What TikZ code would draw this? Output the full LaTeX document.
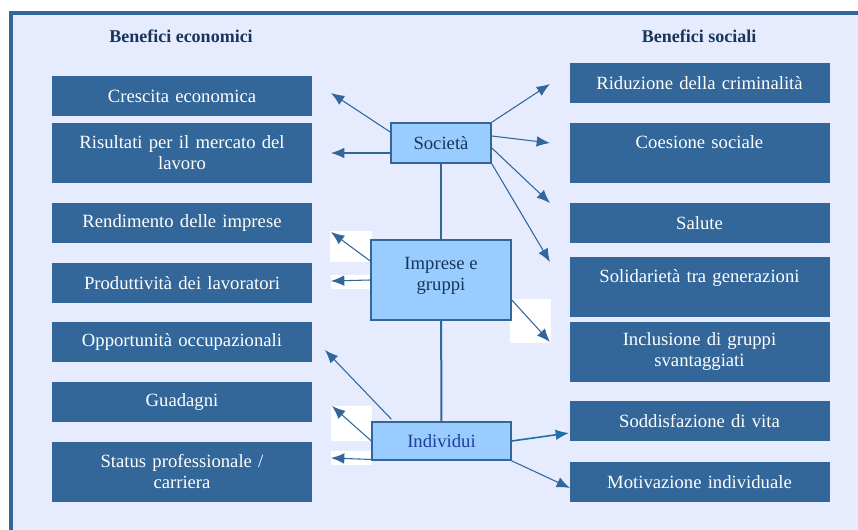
\documentclass[tikz,border=0pt]{standalone}
\usepackage{fontspec}
\setmainfont{Liberation Serif}
\usepackage{tikz}
\usetikzlibrary{arrows.meta}
\definecolor{frame-blue}{HTML}{336699}
\definecolor{box-blue}{HTML}{336699}
\definecolor{pale-blue}{HTML}{E6ECFE}
\definecolor{sky-blue}{HTML}{99CCFF}
\definecolor{navy}{HTML}{17365D}
\definecolor{royal}{HTML}{203F9A}
\definecolor{deep-blue}{HTML}{1F6FA8}
\newcommand*\boxfont{\fontsize{14}{15.75}\selectfont}
\newcommand*\headfont{\fontsize{13.5}{15.75}\selectfont\bfseries}

\begin{document}
\begin{tikzpicture}[x=0.75pt,y=-0.75pt,
	benefit/.style={fill=box-blue,text=white,font=\boxfont,minimum width=195pt,text width=190pt,minimum height=30pt,align=center,inner sep=0pt},
	tall/.style={minimum height=45pt},
	level/.style={fill=sky-blue,draw=frame-blue,line width=1.2pt,text=navy,font=\boxfont,align=center,inner sep=0pt},
	heading/.style={font=\headfont,text=navy},
	arr/.style={draw=frame-blue,line width=0.8pt,-{Latex[length=10pt,width=8pt]}},
	patch/.style={fill=white}]
	\useasboundingbox (0,0) rectangle (858,530);
	\clip (0,0) rectangle (858,530);
	\fill[white] (0,0) rectangle (858,530);
	\draw[draw=frame-blue,line width=3pt,fill=pale-blue] (11,13) rectangle (880,550);

	\node[heading] (economici) at (181,36) {Benefici economici};
	\node[heading] (sociali) at (699,36) {Benefici sociali};

	\node[benefit] (crescita) at (182,96) {Crescita economica};
	\node[benefit,tall] (mercato) at (182,153) {Risultati per il mercato del\\lavoro};
	\node[benefit] (rendimento) at (182,223.5) {Rendimento delle imprese};
	\node[benefit] (produttivita) at (182,283) {Produttività dei lavoratori};
	\node[benefit] (opportunita) at (182,342) {Opportunità occupazionali};
	\node[benefit] (guadagni) at (182,402.5) {Guadagni};
	\node[benefit,tall] (carriera) at (182,472) {Status professionale /\\carriera};

	\node[benefit] (criminalita) at (699.5,83.5) {Riduzione della criminalità};
	\node[benefit,tall] (coesione) at (699.5,153) {Coesione sociale\\\mbox{}};
	\node[benefit] (salute) at (699.5,223.5) {Salute};
	\node[benefit,tall] (solidarieta) at (699.5,287) {Solidarietà tra generazioni\\\mbox{}};
	\node[benefit,tall] (inclusione) at (699.5,352) {Inclusione di gruppi\\svantaggiati};
	\node[benefit] (vita) at (699.5,421.5) {Soddisfazione di vita};
	\node[benefit] (motivazione) at (699.5,482) {Motivazione individuale};

	\fill[patch] (330,231) rectangle (372,262);
	\fill[patch] (331,275) rectangle (372,289);
	\fill[patch] (510,299) rectangle (551,343);
	\fill[patch] (331,406) rectangle (372,441);
	\fill[patch] (331,451) rectangle (372,465);

	\node[level,minimum width=75pt,minimum height=30pt] (societa) at (441,143) {Società};
	\node[level,minimum width=105pt,minimum height=60pt] (imprese) at (441,280) {Imprese e\\gruppi\\[-6pt]\mbox{}};
	\node[level,minimum width=104pt,minimum height=28.5pt,text=royal] (individui) at (441.5,441) {Individui};

	\coordinate (s1) at (331,93);
	\coordinate (s2) at (331,153);
	\coordinate (s3) at (550,84);
	\coordinate (s4) at (550,143);
	\coordinate (s5) at (550,203);
	\coordinate (s6) at (550,262);
	\coordinate (g1) at (331,232);
	\coordinate (g2) at (331,281);
	\coordinate (g3) at (550,342);
	\coordinate (p1) at (325,350);
	\coordinate (p2) at (332,406);
	\coordinate (p3) at (331,458);
	\coordinate (p4) at (569,433);
	\coordinate (p5) at (570,488);

	\draw[frame-blue,line width=1.5pt] (societa) -- (imprese);
	\draw[frame-blue,line width=1.5pt] (imprese) -- (individui);

	\draw[arr] ([yshift=8.25pt]societa.west) -- (s1);
	\draw[arr] ([yshift=-7.5pt]societa.west) -- (s2);
	\draw[arr] (societa.north east) -- (s3);
	\draw[arr] ([yshift=5.25pt]societa.east) -- (s4);
	\draw[arr] ([yshift=-3.75pt]societa.east) -- (s5);
	\draw[arr] (societa.south east) -- (s6);

	\draw[arr] ([yshift=14.25pt]imprese.west) -- (g1);
	\draw[arr] (imprese.west) -- (g2);
	\draw[arr] ([yshift=-15pt]imprese.east) -- (g3);

	\draw[arr] ([xshift=15pt,yshift=1.5pt]individui.north west) -- (p1);
	\draw[arr] (individui.west) -- (p2);
	\draw[arr] ([yshift=1pt]individui.south west) -- (p3);
	\draw[arr,draw=deep-blue,line width=1.2pt] (individui.east) -- (p4);
	\draw[arr] (individui.south east) -- (p5);
\end{tikzpicture}
\end{document}
